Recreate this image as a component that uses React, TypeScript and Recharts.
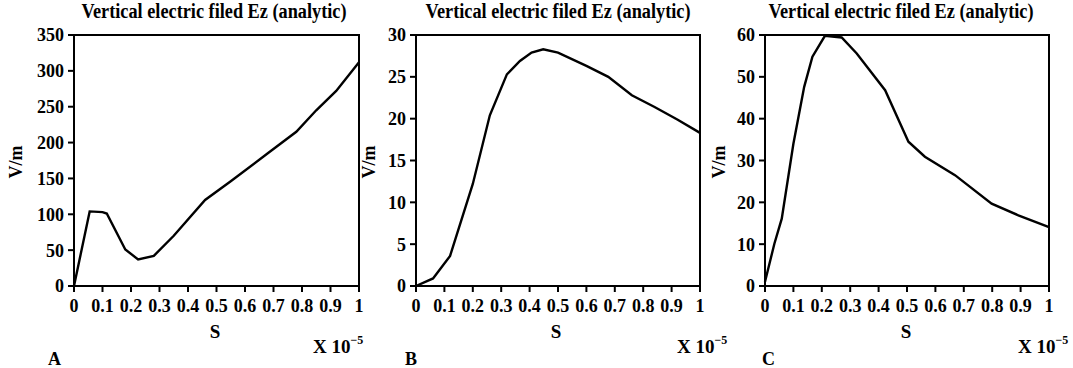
import React from 'react';
import { LineChart, Line, XAxis, YAxis } from 'recharts';

// time axis in units of 1e-5 s
const timeA = [0, 0.055, 0.1, 0.115, 0.18, 0.225, 0.28, 0.35, 0.46, 0.55, 0.68, 0.78, 0.85, 0.92, 1.0];
const ezA = [0, 104, 103, 101, 51, 37, 42, 70, 120, 146, 185, 215, 245, 272, 312];

const timeB = [0, 0.06, 0.12, 0.2, 0.26, 0.32, 0.366, 0.407, 0.448, 0.5, 0.6, 0.677, 0.76, 0.84, 0.92, 1.0];
const ezB = [0, 0.9, 3.6, 12.2, 20.4, 25.3, 26.9, 27.9, 28.3, 27.9, 26.3, 25.0, 22.8, 21.4, 19.9, 18.3];

const timeC = [0, 0.033, 0.059, 0.1, 0.138, 0.167, 0.211, 0.27, 0.323, 0.423, 0.505, 0.563, 0.669, 0.798, 0.892, 1.0];
const ezC = [1, 10.1, 16.1, 34, 47.6, 54.8, 59.8, 59.4, 55.6, 46.8, 34.5, 30.9, 26.5, 19.7, 16.9, 14.1];

const xTicks = [0, 0.1, 0.2, 0.3, 0.4, 0.5, 0.6, 0.7, 0.8, 0.9, 1];
const yTicksA = [0, 50, 100, 150, 200, 250, 300, 350];
const yTicksB = [0, 5, 10, 15, 20, 25, 30];
const yTicksC = [0, 10, 20, 30, 40, 50, 60];

const TITLE = 'Vertical electric filed Ez (analytic)';
const FONT = 'Liberation Serif';

const toRows = (t: number[], v: number[]) => t.map((s, i) => ({ s, ez: v[i] }));
const rowsA = toRows(timeA, ezA);
const rowsB = toRows(timeB, ezB);
const rowsC = toRows(timeC, ezC);

const tickStyle = { fill: '#000', fontSize: 18, fontWeight: 'bold', fontFamily: FONT };
const lineStyle = { stroke: '#000', strokeWidth: 2 };

const PLOT_TOP = 35;
const PLOT_H = 251;

interface PanelProps {
  left: number;
  width: number;
  yAxisWidth: number;
  marginRight: number;
  rows: { s: number; ez: number }[];
  yTicks: number[];
}

const Panel: React.FC<PanelProps> = ({ left, width, yAxisWidth, marginRight, rows, yTicks }) => {
  const yMax = yTicks[yTicks.length - 1];
  const plotW = width - yAxisWidth - marginRight;
  return (
    <>
      {/* box around the plot area */}
      <div
        style={{
          position: 'absolute',
          left: left + yAxisWidth - 1,
          top: PLOT_TOP - 1,
          width: plotW + 2,
          height: PLOT_H + 2,
          border: '2px solid #000',
          boxSizing: 'border-box',
        }}
      />
      <div style={{ position: 'absolute', left, top: 0 }}>
        <LineChart
          width={width}
          height={368}
          data={rows}
          margin={{ top: PLOT_TOP, right: marginRight, left: 0, bottom: 0 }}
        >
          <XAxis
            dataKey="s"
            type="number"
            domain={[0, 1]}
            ticks={xTicks}
            interval={0}
            height={368 - PLOT_TOP - PLOT_H}
            axisLine={lineStyle}
            tickLine={lineStyle}
            tickSize={6}
            tickMargin={7}
            tick={tickStyle}
          />
          <YAxis
            type="number"
            domain={[0, yMax]}
            ticks={yTicks}
            interval={0}
            width={yAxisWidth}
            axisLine={lineStyle}
            tickLine={lineStyle}
            tickSize={6}
            tickMargin={4}
            tick={tickStyle}
          />
          <Line
            type="linear"
            dataKey="ez"
            stroke="#000"
            strokeWidth={2.4}
            dot={false}
            isAnimationActive={false}
          />
        </LineChart>
      </div>
    </>
  );
};

// text placed per panel: title centre, S centre, V/m baseline x, "X 10" start, panel letter x
const annotations = [
  { title: 214, s: 215, vm: 22, exp: 313, letter: 'A', lx: 48 },
  { title: 558, s: 556, vm: 375, exp: 677, letter: 'B', lx: 405 },
  { title: 901, s: 906, vm: 725, exp: 1018, letter: 'C', lx: 762 },
];

export default function App() {
  return (
    <div style={{ position: 'absolute', left: 0, top: 0, width: 1073, height: 368, background: '#fff' }}>
      <svg width={1073} height={368} style={{ position: 'absolute', left: 0, top: 0 }}>
        {annotations.map((a) => (
          <g key={a.letter} fontWeight="bold" fill="#000" fontFamily={FONT}>
            <text x={a.title} y={18} fontSize={20} textAnchor="middle" textLength={265} lengthAdjust="spacingAndGlyphs">
              {TITLE}
            </text>
            <text x={a.s} y={338} fontSize={19} textAnchor="middle">S</text>
            <text x={a.vm} y={162} fontSize={18} textAnchor="middle" transform={`rotate(-90 ${a.vm} 162)`}>V/m</text>
            <text x={a.exp} y={353} fontSize={19}>
              X 10<tspan dy={-9} fontSize={12}>−5</tspan>
            </text>
            <text x={a.lx} y={365} fontSize={18}>{a.letter}</text>
          </g>
        ))}
      </svg>
      <Panel left={0} width={365} yAxisWidth={74} marginRight={6} rows={rowsA} yTicks={yTicksA} />
      <Panel left={355} width={350} yAxisWidth={61} marginRight={5} rows={rowsB} yTicks={yTicksB} />
      <Panel left={705} width={350} yAxisWidth={60} marginRight={6} rows={rowsC} yTicks={yTicksC} />
    </div>
  );
}
